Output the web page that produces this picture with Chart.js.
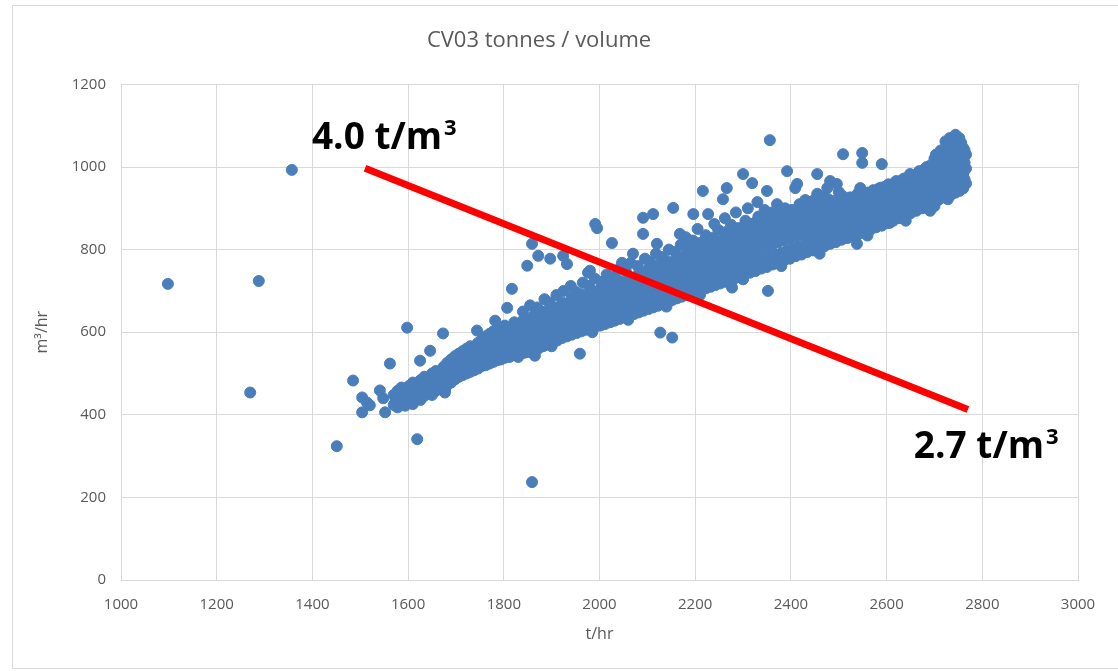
<!DOCTYPE html>
<html>
<head>
<meta charset="utf-8">
<title>CV03 tonnes / volume</title>
<script src="https://cdn.jsdelivr.net/npm/chart.js@4.4.1/dist/chart.umd.min.js"></script>
<style>
    html, body { margin: 0; padding: 0; background: #ffffff; }
    #wrap { position: relative; width: 1118px; height: 671px; }
</style>
</head>
<body>
<div id="wrap"><canvas id="chart"></canvas></div>
<script>
// Readings [t/hr, m3/hr]
const outliers = [
    [1098, 717], [1270, 454], [1288, 724], [1357, 993], [1451, 324], [1485, 483], [1619, 341],
    [1598, 611], [1859, 237], [1562, 524], [1625, 531], [1646, 555], [1673, 597], [1677, 459],
    [1744, 604], [1782, 628], [1807, 659], [1817, 705], [1849, 761], [1859, 814], [1872, 785],
    [1897, 778], [1924, 785], [1932, 765], [1976, 744], [1980, 749], [1991, 862], [1995, 852],
    [2026, 816], [2047, 768], [2070, 790], [2091, 877], [2112, 886], [2091, 838], [2120, 814],
    [2154, 901], [2168, 838], [2196, 886], [2227, 886], [2216, 942], [2258, 922], [2266, 949],
    [2300, 983], [2319, 961], [2350, 942], [2356, 1065], [2371, 910], [2392, 990], [2409, 949],
    [2413, 959], [2455, 983], [2455, 935], [2476, 949], [2482, 966], [2496, 959], [2509, 1031],
    [2549, 1034], [2549, 1010], [2545, 949], [2517, 918], [2590, 1007], [2649, 983], [2607, 865],
    [2653, 901], [2676, 906], [2691, 894], [2728, 922], [2538, 814], [2277, 708], [2352, 700],
    [2127, 599], [2152, 587], [1865, 543], [1959, 548], [1677, 454], [2180, 830], [2205, 850],
    [2240, 862], [2262, 876], [2285, 890], [2310, 900], [2330, 915], [2345, 896], [2430, 920],
    [2470, 928], [2500, 940]
];

const bandLow = [
    [1504, 442], [1504, 406], [1514, 430], [1520, 423], [1541, 459], [1548, 440], [1552, 406],
    [1570, 424], [1570, 448], [1578, 418], [1578, 436], [1578, 458], [1586, 428], [1586, 446],
    [1586, 466], [1594, 422], [1594, 440], [1594, 460], [1602, 432], [1602, 452], [1602, 470],
    [1610, 426], [1610, 446], [1610, 464], [1610, 478], [1618, 440], [1618, 458], [1618, 474],
    [1626, 436], [1626, 452], [1626, 470], [1626, 484], [1634, 446], [1634, 462], [1634, 480],
    [1634, 492], [1642, 452], [1642, 468], [1642, 486], [1650, 448], [1650, 466], [1650, 482],
    [1650, 500], [1658, 458], [1658, 474], [1658, 492], [1658, 506], [1666, 466], [1666, 484],
    [1666, 500], [1674, 462], [1674, 480], [1674, 498], [1674, 516], [1682, 472], [1682, 490],
    [1682, 508], [1682, 526], [1690, 478], [1690, 496], [1690, 514], [1690, 534], [1698, 486],
    [1698, 504], [1698, 522], [1698, 542], [1706, 492], [1706, 510], [1706, 530], [1706, 548],
    [1714, 496], [1714, 516], [1714, 536], [1714, 554], [1722, 500], [1722, 522], [1722, 542],
    [1722, 560], [1730, 504], [1730, 526], [1730, 548], [1730, 566], [1738, 508], [1738, 532],
    [1738, 552], [1746, 512], [1746, 536], [1746, 558], [1746, 574], [1754, 518], [1754, 540],
    [1754, 564], [1754, 582], [1762, 520], [1762, 546], [1762, 570], [1762, 590], [1770, 524],
    [1770, 550], [1770, 576], [1770, 596], [1778, 528], [1778, 556], [1778, 580], [1778, 602],
    [1786, 532], [1786, 560], [1786, 586], [1794, 534], [1794, 564], [1794, 592], [1794, 610]
];

const bandMid = [
    [1802, 538], [1802, 566], [1802, 596], [1802, 616], [1812, 540], [1812, 570], [1812, 600],
    [1822, 544], [1822, 574], [1822, 604], [1822, 624], [1832, 548], [1832, 580], [1832, 610],
    [1842, 550], [1842, 584], [1842, 614], [1842, 632], [1852, 552], [1852, 588], [1852, 618],
    [1862, 556], [1862, 592], [1862, 622], [1862, 640], [1872, 560], [1872, 596], [1872, 628],
    [1882, 566], [1882, 600], [1882, 632], [1882, 650], [1892, 570], [1892, 604], [1892, 636],
    [1902, 574], [1902, 608], [1902, 640], [1902, 662], [1912, 580], [1912, 614], [1912, 646],
    [1922, 586], [1922, 618], [1922, 650], [1922, 672], [1932, 590], [1932, 622], [1932, 656],
    [1942, 594], [1942, 628], [1942, 660], [1942, 684], [1952, 598], [1952, 632], [1952, 664],
    [1962, 602], [1962, 636], [1962, 668], [1962, 692], [1972, 606], [1972, 640], [1972, 674],
    [1982, 610], [1982, 644], [1982, 678], [1982, 700], [1992, 614], [1992, 650], [1992, 684],
    [2002, 616], [2002, 652], [2002, 688], [2002, 706], [2012, 620], [2012, 656], [2012, 692],
    [2022, 624], [2022, 660], [2022, 696], [2022, 714], [2032, 628], [2032, 664], [2032, 700],
    [2042, 632], [2042, 668], [2042, 704], [2042, 724], [2052, 636], [2052, 674], [2052, 710],
    [2062, 640], [2062, 678], [2062, 714], [2062, 732], [2072, 644], [2072, 682], [2072, 718],
    [2082, 648], [2082, 686], [2082, 722], [2082, 742], [2092, 652], [2092, 690], [2092, 728],
    [2102, 656], [2102, 694], [2102, 732], [2102, 752], [2112, 660], [2112, 698], [2112, 736],
    [2122, 664], [2122, 702], [2122, 740], [2122, 762], [2132, 668], [2132, 706], [2132, 746],
    [2142, 672], [2142, 712], [2142, 750], [2142, 772], [2152, 678], [2152, 716], [2152, 754],
    [2162, 682], [2162, 720], [2162, 760], [2162, 782], [2172, 686], [2172, 724], [2172, 764],
    [2182, 690], [2182, 730], [2182, 770], [2182, 792], [2192, 694], [2192, 734], [2192, 774],
    [2202, 698], [2202, 738], [2202, 778], [2202, 802], [2212, 702], [2212, 742], [2212, 782],
    [2222, 706], [2222, 746], [2222, 788], [2222, 812], [2232, 710], [2232, 750], [2232, 792],
    [2242, 714], [2242, 756], [2242, 796], [2242, 822], [2252, 718], [2252, 760], [2252, 800],
    [2262, 722], [2262, 764], [2262, 806], [2262, 834], [2272, 726], [2272, 768], [2272, 810],
    [2282, 730], [2282, 774], [2282, 816], [2282, 846], [2292, 736], [2292, 778], [2292, 820]
];

const bandHigh = [
    [2302, 740], [2302, 782], [2302, 826], [2302, 856], [2314, 744], [2314, 788], [2314, 832],
    [2326, 748], [2326, 794], [2326, 838], [2326, 866], [2338, 754], [2338, 800], [2338, 844],
    [2350, 758], [2350, 806], [2350, 850], [2350, 876], [2362, 764], [2362, 812], [2362, 856],
    [2374, 768], [2374, 818], [2374, 862], [2374, 884], [2386, 774], [2386, 822], [2386, 866],
    [2398, 778], [2398, 826], [2398, 870], [2398, 892], [2410, 784], [2410, 832], [2410, 874],
    [2422, 788], [2422, 836], [2422, 878], [2422, 898], [2434, 794], [2434, 840], [2434, 882],
    [2446, 798], [2446, 846], [2446, 886], [2446, 902], [2458, 804], [2458, 850], [2458, 890],
    [2470, 808], [2470, 854], [2470, 894], [2470, 906], [2482, 814], [2482, 858], [2482, 898],
    [2494, 818], [2494, 862], [2494, 900], [2494, 912], [2506, 824], [2506, 866], [2506, 904],
    [2518, 828], [2518, 870], [2518, 908], [2518, 918], [2530, 834], [2530, 874], [2530, 912],
    [2542, 838], [2542, 878], [2542, 916], [2542, 924], [2554, 844], [2554, 882], [2554, 920],
    [2566, 848], [2566, 888], [2566, 924], [2566, 932], [2578, 854], [2578, 892], [2578, 928],
    [2590, 858], [2590, 896], [2590, 932], [2590, 940], [2602, 864], [2602, 900], [2602, 936],
    [2614, 870], [2614, 906], [2614, 942], [2614, 950], [2626, 876], [2626, 912], [2626, 948],
    [2638, 882], [2638, 918], [2638, 954], [2638, 962], [2650, 888], [2650, 924], [2650, 958],
    [2662, 894], [2662, 930], [2662, 964], [2662, 974], [2674, 900], [2674, 936], [2674, 970],
    [2674, 984], [2686, 908], [2686, 942], [2686, 976], [2686, 994], [2698, 914], [2698, 950],
    [2698, 984], [2698, 1004], [2708, 920], [2708, 956], [2708, 990], [2708, 1014], [2718, 926],
    [2718, 962], [2718, 996], [2718, 1024], [2728, 930], [2728, 966], [2728, 1002], [2728, 1034],
    [2728, 1050], [2736, 934], [2736, 970], [2736, 1006], [2736, 1040], [2736, 1060], [2744, 938],
    [2744, 974], [2744, 1010], [2744, 1044], [2744, 1066], [2744, 1078], [2752, 942], [2752, 978],
    [2752, 1014], [2752, 1048], [2752, 1070], [2760, 948], [2760, 984], [2760, 1018], [2760, 1046],
    [2766, 960], [2766, 996], [2766, 1030]
];

// readings lying between the rows above, so the band reads as one solid cloud
const bandFill = [
    [1574, 436], [1582, 428], [1590, 452], [1598, 432], [1606, 442], [1606, 462], [1614, 452],
    [1622, 446], [1622, 466], [1630, 456], [1630, 474], [1638, 458], [1638, 476], [1646, 460],
    [1646, 478], [1654, 468], [1654, 488], [1662, 474], [1662, 494], [1670, 472], [1670, 490],
    [1670, 508], [1678, 482], [1678, 500], [1678, 518], [1686, 488], [1686, 506], [1686, 524],
    [1694, 492], [1694, 510], [1694, 528], [1702, 498], [1702, 518], [1702, 538], [1710, 504],
    [1710, 524], [1710, 544], [1718, 508], [1718, 528], [1718, 548], [1726, 512], [1726, 534],
    [1726, 556], [1734, 516], [1734, 540], [1734, 560], [1742, 522], [1742, 546], [1742, 566],
    [1750, 526], [1750, 550], [1750, 572], [1758, 530], [1758, 554], [1758, 578], [1766, 536],
    [1766, 560], [1766, 584], [1774, 538], [1774, 564], [1774, 588], [1782, 544], [1782, 570],
    [1782, 594], [1790, 548], [1790, 574], [1790, 600], [1798, 552], [1798, 580], [1798, 604],
    [1807, 552], [1807, 582], [1807, 606], [1817, 556], [1817, 586], [1817, 612], [1827, 560],
    [1827, 590], [1827, 616], [1837, 564], [1837, 596], [1837, 622], [1847, 568], [1847, 600],
    [1847, 626], [1857, 572], [1857, 604], [1857, 630], [1867, 576], [1867, 610], [1867, 636],
    [1877, 580], [1877, 612], [1877, 640], [1887, 584], [1887, 618], [1887, 644], [1897, 588],
    [1897, 622], [1897, 650], [1907, 592], [1907, 626], [1907, 654], [1917, 596], [1917, 630],
    [1917, 660], [1927, 602], [1927, 636], [1927, 664], [1937, 606], [1937, 640], [1937, 670],
    [1947, 610], [1947, 646], [1947, 674], [1957, 616], [1957, 650], [1957, 680], [1967, 620],
    [1967, 654], [1967, 684], [1977, 624], [1977, 660], [1977, 690], [1987, 628], [1987, 664],
    [1987, 694], [1997, 632], [1997, 668], [1997, 698], [2007, 636], [2007, 672], [2007, 700],
    [2017, 638], [2017, 676], [2017, 704], [2027, 642], [2027, 680], [2027, 708], [2037, 646],
    [2037, 684], [2037, 714], [2047, 650], [2047, 688], [2047, 718], [2057, 654], [2057, 694],
    [2057, 722], [2067, 658], [2067, 698], [2067, 726], [2077, 662], [2077, 702], [2077, 732],
    [2087, 666], [2087, 706], [2087, 736], [2097, 670], [2097, 710], [2097, 742], [2107, 674],
    [2107, 714], [2107, 746], [2117, 678], [2117, 718], [2117, 750], [2127, 684], [2127, 724],
    [2127, 756], [2137, 688], [2137, 728], [2137, 760], [2147, 692], [2147, 732], [2147, 764],
    [2157, 696], [2157, 738], [2157, 770], [2167, 700], [2167, 742], [2167, 774], [2177, 704],
    [2177, 746], [2177, 780], [2187, 710], [2187, 752], [2187, 784], [2197, 714], [2197, 756],
    [2197, 790], [2207, 718], [2207, 760], [2207, 794], [2217, 722], [2217, 764], [2217, 800],
    [2227, 726], [2227, 770], [2227, 806], [2237, 730], [2237, 774], [2237, 810], [2247, 734],
    [2247, 778], [2247, 814], [2257, 740], [2257, 784], [2257, 820], [2267, 744], [2267, 788],
    [2267, 826], [2277, 748], [2277, 792], [2277, 832], [2287, 752], [2287, 796], [2287, 836],
    [2297, 756], [2297, 800], [2297, 840], [2308, 762], [2308, 806], [2308, 842], [2320, 766],
    [2320, 812], [2320, 848], [2332, 772], [2332, 818], [2332, 854], [2344, 776], [2344, 824],
    [2344, 860], [2356, 782], [2356, 830], [2356, 866], [2368, 788], [2368, 836], [2368, 872],
    [2380, 792], [2380, 840], [2380, 876], [2392, 798], [2392, 846], [2392, 882], [2404, 802],
    [2404, 850], [2404, 886], [2416, 808], [2416, 856], [2416, 890], [2428, 812], [2428, 860],
    [2428, 894], [2440, 818], [2440, 864], [2440, 898], [2452, 822], [2452, 870], [2452, 902],
    [2464, 828], [2464, 874], [2464, 906], [2476, 832], [2476, 878], [2476, 910], [2488, 838],
    [2488, 882], [2488, 914], [2500, 842], [2500, 886], [2500, 918], [2512, 848], [2512, 890],
    [2512, 922], [2524, 852], [2524, 894], [2524, 926], [2536, 858], [2536, 898], [2536, 930],
    [2548, 862], [2548, 902], [2548, 934], [2560, 866], [2560, 906], [2560, 938], [2572, 872],
    [2572, 910], [2572, 942], [2584, 876], [2584, 914], [2584, 948], [2596, 882], [2596, 918],
    [2596, 952], [2608, 886], [2608, 924], [2608, 956], [2620, 892], [2620, 930], [2620, 962],
    [2632, 898], [2632, 936], [2632, 968], [2644, 904], [2644, 942], [2644, 972], [2656, 910],
    [2656, 948], [2656, 980], [2668, 918], [2668, 954], [2668, 988], [2680, 924], [2680, 960],
    [2680, 996], [2692, 930], [2692, 966], [2692, 1004], [2703, 936], [2703, 972], [2703, 1008],
    [2703, 1030], [2713, 940], [2713, 978], [2713, 1012], [2713, 1040], [2723, 946], [2723, 984],
    [2723, 1018], [2723, 1046], [2723, 1062], [2732, 950], [2732, 988], [2732, 1024], [2732, 1052],
    [2732, 1070], [2740, 954], [2740, 992], [2740, 1028], [2740, 1058], [2740, 1072], [2748, 958],
    [2748, 996], [2748, 1032], [2748, 1060], [2756, 962], [2756, 1000], [2756, 1034], [2756, 1058],
    [2763, 970], [2763, 1010], [2763, 1040]
];

// ragged readings along the top and bottom of the band
const bandUpperEdge = [
    [1840, 650], [1855, 665], [1870, 660], [1885, 680], [1895, 672], [1910, 690], [1925, 700],
    [1940, 712], [1950, 698], [1965, 720], [1978, 712], [1990, 730], [2005, 722], [2015, 740],
    [2030, 735], [2040, 752], [2055, 748], [2065, 768], [2080, 760], [2095, 778], [2105, 770],
    [2118, 790], [2130, 782], [2145, 800], [2158, 795], [2170, 812], [2185, 805], [2195, 822],
    [2210, 816], [2222, 835], [2236, 828], [2248, 848], [2262, 842], [2275, 860], [2290, 852],
    [2305, 870], [2318, 862], [2332, 880], [2346, 874], [2360, 890], [2375, 884], [2388, 900],
    [2402, 896], [2418, 910], [2432, 904], [2446, 918], [2462, 912], [2478, 922], [2492, 918],
    [2508, 930], [2524, 926], [2540, 936], [2556, 932], [2572, 944], [2588, 950], [2604, 958],
    [2620, 966], [2636, 972], [2652, 978], [2668, 990], [2684, 1000], [2700, 1020]
];

const bandLowerEdge = [
    [1830, 540], [1900, 566], [1985, 600], [2060, 630], [2140, 662], [2210, 690], [2300, 728],
    [2380, 760], [2460, 790], [2560, 834], [2640, 870], [2700, 905]
];

// density guide line and its end labels
const densityLine = [[1510, 997], [2770, 413]];
const densityLabels = ['4.0 t/m', '2.7 t/m'];
const labelAnchors = [[1399, 1043], [2657, 295]];

const xTicks = [1000, 3000, 200];
const yTicks = [0, 1200, 200];

const toPoints = rows => rows.map(r => ({ x: r[0], y: r[1] }));
const readings = toPoints([
    ...outliers, ...bandLow, ...bandMid, ...bandHigh, ...bandFill, ...bandUpperEdge, ...bandLowerEdge
]);

const gray = '#595959';
const gridColor = '#d9d9d9';
const font = "'Open Sans', 'DejaVu Sans', sans-serif";

// white background + thin outer frame like the spreadsheet chart
const framePlugin = {
    id: 'frame',
    beforeDraw(chart) {
        const ctx = chart.ctx;
        ctx.save();
        ctx.fillStyle = '#ffffff';
        ctx.fillRect(0, 0, chart.width, chart.height);
        ctx.strokeStyle = '#d9d9d9';
        ctx.lineWidth = 1;
        ctx.strokeRect(12.5, 5.5, chart.width - 12, chart.height - 8);
        ctx.restore();
    }
};

// "x t/m3" labels with a raised 3
const densityLabelPlugin = {
    id: 'densityLabels',
    afterDatasetsDraw(chart) {
        const ctx = chart.ctx;
        const xs = chart.scales.x;
        const ys = chart.scales.y;
        ctx.save();
        ctx.fillStyle = '#000000';
        ctx.textAlign = 'left';
        ctx.textBaseline = 'alphabetic';
        densityLabels.forEach((txt, i) => {
            const px = xs.getPixelForValue(labelAnchors[i][0]);
            const py = ys.getPixelForValue(labelAnchors[i][1]);
            ctx.font = 'bold 37px ' + font;
            ctx.fillText(txt, px, py);
            const w = ctx.measureText(txt).width;
            ctx.font = 'bold 22px ' + font;
            ctx.fillText('3', px + w + 2, py - 14);
        });
        ctx.restore();
    }
};

new Chart(document.getElementById('chart'), {
    type: 'scatter',
    data: {
        datasets: [
            {
                label: 'density',
                data: toPoints(densityLine),
                showLine: true,
                borderColor: '#ff0000',
                borderWidth: 7,
                pointRadius: 0,
                order: 0
            },
            {
                label: 'CV03',
                data: readings,
                backgroundColor: '#4a7ebb',
                borderColor: '#4a7ebb',
                borderWidth: 1,
                pointRadius: 5.5,
                order: 1
            }
        ]
    },
    options: {
        responsive: true,
        maintainAspectRatio: false,
        animation: false,
        layout: { padding: { top: 0, right: 40, bottom: 0, left: 0 } },
        plugins: {
            legend: { display: false },
            tooltip: { enabled: false },
            title: {
                display: true,
                text: 'CV03 tonnes / volume',
                color: gray,
                font: { family: font, size: 22, weight: 'normal' },
                padding: { top: 28, bottom: 30 }
            }
        },
        scales: {
            x: {
                type: 'linear',
                min: xTicks[0],
                max: xTicks[1],
                afterFit(scale) { scale.height = 91; },
                ticks: {
                    stepSize: xTicks[2],
                    color: gray,
                    padding: 16,
                    maxRotation: 0,
                    font: { family: font, size: 15 },
                    callback: v => String(v)
                },
                grid: { color: gridColor, drawTicks: false },
                border: { color: gridColor },
                title: {
                    display: true,
                    text: 't/hr',
                    color: gray,
                    font: { family: font, size: 16 },
                    padding: { top: 0, bottom: 27 }
                }
            },
            y: {
                type: 'linear',
                min: yTicks[0],
                max: yTicks[1],
                afterFit(scale) { scale.width = 121; },
                ticks: {
                    stepSize: yTicks[2],
                    color: gray,
                    padding: 15,
                    font: { family: font, size: 15 },
                    callback: v => String(v)
                },
                grid: { color: gridColor, drawTicks: false },
                border: { color: gridColor },
                title: {
                    display: true,
                    text: 'm³/hr',
                    color: gray,
                    font: { family: font, size: 16 },
                    padding: { top: 33, bottom: 0 }
                }
            }
        }
    },
    plugins: [framePlugin, densityLabelPlugin]
});
</script>
</body>
</html>
